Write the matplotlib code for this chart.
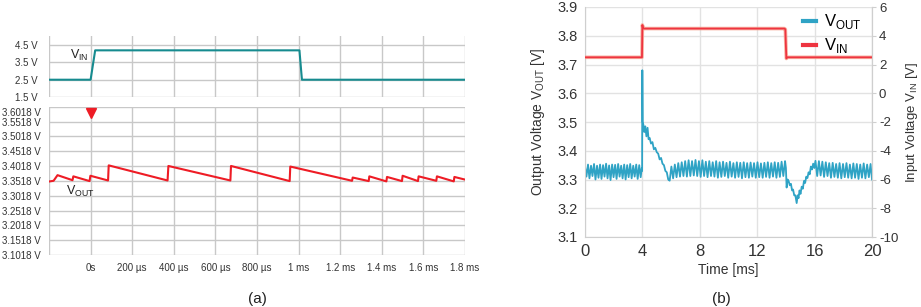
import matplotlib
matplotlib.use('Agg')
import matplotlib.pyplot as plt
import matplotlib.transforms as mtransforms
from matplotlib.ticker import FormatStrFormatter

plt.rcParams['font.family'] = ['Liberation Sans', 'DejaVu Sans']
plt.rcParams['mathtext.fontset'] = 'custom'
plt.rcParams['mathtext.rm'] = 'Liberation Sans'
plt.rcParams['axes.unicode_minus'] = False

# ---- panel (a): scope capture, time in microseconds ----
vin_a_t = [-200, 0, 22, 1004, 1016, 1800]
vin_a_v = [2.5, 2.5, 4.2, 4.2, 2.5, 2.5]

vout_a_t = [-196, -178, -159, -87, -83, -5, -1, 84, 87, 370, 374, 672, 675,
            957, 960, 1257, 1260, 1337, 1340, 1422, 1425, 1497, 1500, 1574,
            1577, 1662, 1665, 1746, 1749, 1806]
vout_a_v = [3.350, 3.352, 3.371, 3.354, 3.367, 3.351, 3.369, 3.353, 3.404,
            3.353, 3.402, 3.353, 3.402, 3.351, 3.400, 3.352, 3.363, 3.351,
            3.367, 3.350, 3.365, 3.351, 3.369, 3.351, 3.367, 3.352, 3.367,
            3.350, 3.365, 3.355]

trigger_t = 0

a_xticks = [-200, 0, 200, 400, 600, 800, 1000, 1200, 1400, 1600, 1800]
a_xlabels = ['', '0s', '200 µs', '400 µs', '600 µs', '800 µs', '1 ms',
             '1.2 ms', '1.4 ms', '1.6 ms', '1.8 ms']
vin_a_ticks = [1.5, 2.5, 3.5, 4.5]
vout_a_ticks = [3.1018, 3.1518, 3.2018, 3.2518, 3.3018, 3.3518, 3.4018,
                3.4518, 3.5018, 3.5518, 3.6018]

# ---- panel (b): measured transient, time in ms ----
vout_b_t = [0.00, 0.10, 0.21, 0.31, 0.42, 0.52, 0.63, 0.73, 0.84, 0.94, 1.05,
            1.15, 1.26, 1.36, 1.47, 1.57, 1.68, 1.78, 1.89, 1.99, 2.10, 2.20,
            2.31, 2.41, 2.52, 2.62, 2.73, 2.83, 2.94, 3.04, 3.15, 3.25, 3.36,
            3.46, 3.57, 3.67, 3.78, 3.88, 3.96,
            3.98, 3.995, 4.02, 4.07, 4.13, 4.20, 4.28, 4.36, 4.43, 4.50, 4.60,
            4.70, 4.80, 4.90, 5.00, 5.10, 5.20, 5.30, 5.40, 5.50, 5.60, 5.70,
            5.80,
            5.90, 6.02, 6.14, 6.26, 6.38, 6.50, 6.62, 6.74, 6.86, 6.98, 7.10,
            7.22, 7.34, 7.46, 7.58, 7.70, 7.82, 7.94, 8.06, 8.18, 8.30, 8.42,
            8.54, 8.66, 8.78, 8.90, 9.02, 9.14, 9.26, 9.38, 9.50, 9.62, 9.74,
            9.86, 9.98, 10.10, 10.22, 10.34, 10.46, 10.58, 10.70, 10.82, 10.94,
            11.06, 11.18, 11.30, 11.42, 11.54, 11.66, 11.78, 11.90, 12.02,
            12.14, 12.26, 12.38, 12.50, 12.62, 12.74, 12.86, 12.98, 13.10,
            13.22, 13.34, 13.46, 13.58, 13.70, 13.82, 13.94,
            14.00, 14.05, 14.12, 14.19, 14.27, 14.35, 14.43, 14.50, 14.58,
            14.66, 14.75, 14.82, 14.88, 14.95, 15.02, 15.10, 15.18, 15.26,
            15.34, 15.42, 15.50, 15.58, 15.66, 15.74, 15.82, 15.90, 15.98,
            16.06,
            16.18, 16.30, 16.42, 16.54, 16.66, 16.78, 16.90, 17.02, 17.14,
            17.26, 17.38, 17.50, 17.62, 17.74, 17.86, 17.98, 18.10, 18.22,
            18.34, 18.46, 18.58, 18.70, 18.82, 18.94, 19.06, 19.18, 19.30,
            19.42, 19.54, 19.66, 19.78, 19.90, 20.00]
vout_b_v = [3.345, 3.310, 3.352, 3.304, 3.348, 3.312, 3.354, 3.300, 3.348,
            3.306, 3.352, 3.302, 3.350, 3.310, 3.355, 3.304, 3.349, 3.298,
            3.352, 3.308, 3.351, 3.302, 3.354, 3.310, 3.348, 3.304, 3.352,
            3.300, 3.350, 3.308, 3.354, 3.304, 3.348, 3.310, 3.352, 3.302,
            3.350, 3.308, 3.340,
            3.330, 3.680, 3.500, 3.490, 3.465, 3.485, 3.450, 3.480, 3.440,
            3.445, 3.425, 3.430, 3.405, 3.410, 3.395, 3.390, 3.370, 3.375,
            3.355, 3.350, 3.330, 3.325, 3.300,
            3.296, 3.345, 3.304, 3.352, 3.308, 3.357, 3.310, 3.360, 3.312,
            3.364, 3.310, 3.367, 3.312, 3.364, 3.314, 3.368, 3.312, 3.364,
            3.309, 3.367, 3.312, 3.362, 3.308, 3.364, 3.312, 3.360, 3.310,
            3.364, 3.306, 3.360, 3.309, 3.362, 3.312, 3.358, 3.306, 3.362,
            3.310, 3.357, 3.306, 3.360, 3.309, 3.358, 3.304, 3.360, 3.308,
            3.357, 3.306, 3.359, 3.310, 3.357, 3.306, 3.360, 3.308, 3.356,
            3.306, 3.358, 3.309, 3.360, 3.306, 3.357, 3.310, 3.360, 3.306,
            3.358, 3.309, 3.362, 3.312, 3.364,
            3.340, 3.272, 3.300, 3.295, 3.280, 3.285, 3.262, 3.265, 3.245,
            3.245, 3.218, 3.245, 3.235, 3.262, 3.250, 3.275, 3.268, 3.295,
            3.288, 3.310, 3.305, 3.325, 3.318, 3.345, 3.335, 3.355, 3.340,
            3.365,
            3.312, 3.364, 3.314, 3.362, 3.309, 3.360, 3.312, 3.357, 3.306,
            3.358, 3.309, 3.354, 3.306, 3.357, 3.304, 3.354, 3.308, 3.357,
            3.306, 3.352, 3.304, 3.356, 3.306, 3.354, 3.302, 3.352, 3.306,
            3.356, 3.304, 3.352, 3.308, 3.354, 3.300]

vin_b_t = [0.0, 3.97, 4.00, 4.04, 4.12, 13.90, 13.96, 14.03, 14.10, 20.0]
vin_b_v = [2.50, 2.50, 4.75, 4.52, 4.50, 4.50, 4.45, 2.42, 2.50, 2.50]

b_xticks = [0, 4, 8, 12, 16, 20]
b_yticks = [3.1, 3.2, 3.3, 3.4, 3.5, 3.6, 3.7, 3.8, 3.9]
b_y2ticks = [-10, -8, -6, -4, -2, 0, 2, 4, 6]

teal = '#168b8f'
red_a = '#ee1c25'
blue_b = '#2fa3c5'
red_b = '#ee3440'
grid_a = '#c8c8c8'
grid_b = '#e2e2e2'

fig = plt.figure(figsize=(9.21, 3.07), dpi=100)
W, H = 921, 307

ax_in = fig.add_axes([49 / W, 1 - 97 / H, 416 / W, 61 / H])
ax_out = fig.add_axes([49 / W, 1 - 255 / H, 416 / W, 148.3 / H])
ax_b = fig.add_axes([585 / W, 1 - 237 / H, 287 / W, 230 / H])

# ---------- (a) top: VIN ----------
ax_in.plot(vin_a_t, vin_a_v, color=teal, lw=1.5)
ax_in.set_xlim(-200, 1800)
ax_in.set_ylim(1.5, 5.03)
ax_in.set_xticks(a_xticks)
ax_in.set_xticklabels([])
ax_in.set_yticks(vin_a_ticks)
ax_in.set_yticklabels([f'{v:.1f} V' for v in vin_a_ticks])
ax_in.tick_params(length=0, labelsize=7, pad=8, colors='#333333')
ax_in.grid(True, color=grid_a, lw=1)
for s in ax_in.spines.values():
    s.set_visible(False)
ax_in.text(-8, 3.68, 'V$_{\\rm IN}$', ha='right', va='baseline', fontsize=9,
           color='#222222')

# ---------- (a) bottom: VOUT ----------
ax_out.plot(vout_a_t, vout_a_v, color=red_a, lw=1.5)
ax_out.set_xlim(-200, 1800)
ax_out.set_ylim(3.1018, 3.6018)
ax_out.set_xticks(a_xticks)
ax_out.set_xticklabels(a_xlabels)
ax_out.set_yticks(vout_a_ticks)
ax_out.set_yticklabels([f'{v:.4f} V' for v in vout_a_ticks])
ax_out.tick_params(length=0, labelsize=7, colors='#333333')
ax_out.tick_params(axis='y', pad=6)
ax_out.tick_params(axis='x', pad=6)
ax_out.grid(True, color=grid_a, lw=1)
for s in ax_out.spines.values():
    s.set_visible(False)
top_lbl = ax_out.get_yticklabels()[-1]
top_lbl.set_transform(top_lbl.get_transform() +
                      mtransforms.ScaledTranslation(0, -3.5 / 72, fig.dpi_scale_trans))
trans = mtransforms.blended_transform_factory(ax_out.transData, ax_out.transAxes)
ax_out.plot([trigger_t], [0.955], marker='v', color=red_a, markersize=6.5,
            transform=trans, clip_on=False, zorder=5)
ax_out.text(-116, 3.306, 'V$_{\\rm OUT}$', ha='left', va='baseline', fontsize=9,
            color='#222222')

# ---------- (b) ----------
ax_b.plot(vout_b_t, vout_b_v, color=blue_b, lw=1.3)
ax_b.set_xlim(0, 20)
ax_b.set_ylim(3.1, 3.9)
ax_b.set_xticks(b_xticks)
ax_b.set_yticks(b_yticks)
ax_b.yaxis.set_major_formatter(FormatStrFormatter('%.1f'))
ax_b.tick_params(axis='y', length=0, labelsize=10.5, pad=5, colors='#333333')
ax_b.tick_params(axis='x', length=0, labelsize=12, pad=5, colors='#333333')
ax_b.grid(True, color=grid_b, lw=1)
ax_b.spines['top'].set_visible(False)
for k in ['left', 'bottom', 'right']:
    ax_b.spines[k].set_color('#cfcfcf')
ax_b.set_xlabel('Time [ms]', fontsize=10, color='#333333', labelpad=3)
ax_b.set_ylabel('Output Voltage V$_{\\rm OUT}$ [V]', fontsize=10,
                color='#333333', labelpad=8)

ax_b2 = ax_b.twinx()
ax_b2.plot(vin_b_t, vin_b_v, color='#f7a08c', lw=2.6, alpha=0.8)
ax_b2.plot(vin_b_t, vin_b_v, color=red_b, lw=1.3)
ax_b2.set_ylim(-10, 6)
ax_b2.set_yticks(b_y2ticks)
ax_b2.tick_params(axis='y', length=3, labelsize=9.5, pad=2, colors='#333333')
ax_b2.tick_params(axis='y', color='#cfcfcf')
for k in ['top', 'left', 'bottom']:
    ax_b2.spines[k].set_visible(False)
ax_b2.spines['right'].set_color('#cfcfcf')
ax_b2.set_ylabel('Input Voltage V$_{\\rm IN}$ [V]', fontsize=9.5,
                 color='#333333', labelpad=4)

h_out = plt.Line2D([], [], color=blue_b, lw=3)
h_in = plt.Line2D([], [], color=red_b, lw=3)
ax_b2.legend([h_out, h_in], ['V$_{\\rm OUT}$', 'V$_{\\rm IN}$'],
             loc='upper right', bbox_to_anchor=(1.0, 1.02), frameon=False,
             fontsize=12, handlelength=0.8, handletextpad=0.5,
             labelspacing=0.3, borderaxespad=0.2)

fig.text(257.5 / W, 1 - 299 / H, '(a)', ha='center', va='center', fontsize=11,
         color='#222222')
fig.text(721.7 / W, 1 - 299 / H, '(b)', ha='center', va='center', fontsize=11,
         color='#222222')

fig.savefig('out.png', dpi=100)
